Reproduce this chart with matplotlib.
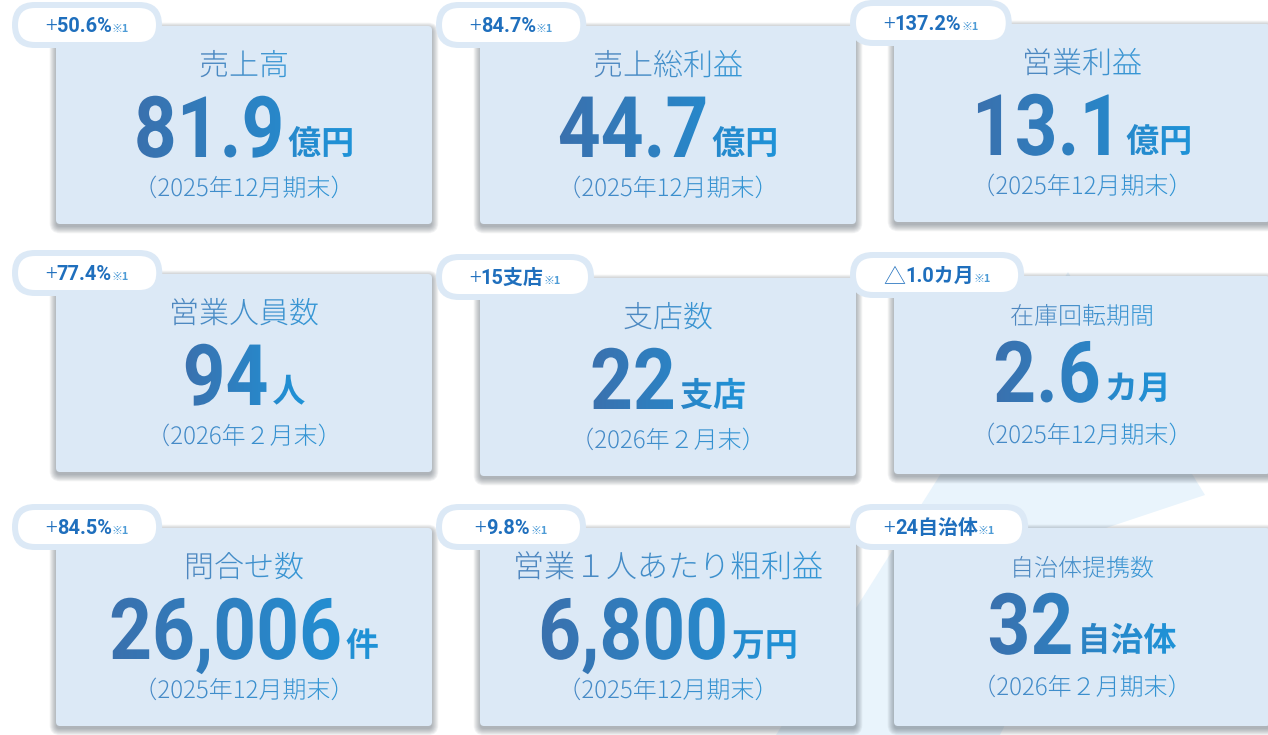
import numpy as np
import matplotlib
matplotlib.use('Agg')
import matplotlib.pyplot as plt
from matplotlib.patches import FancyBboxPatch, Polygon
from matplotlib.patheffects import AbstractPathEffect
from matplotlib.transforms import Affine2D, Bbox
from matplotlib.colors import to_rgb

plt.rcParams['font.family'] = ['Noto Sans CJK JP', 'DejaVu Sans']

# ---- data ----
badges = ['+50.6%', '+84.7%', '+137.2%',
          '+77.4%', '+15支店', '△1.0カ月',
          '+84.5%', '+9.8%', '+24自治体']
titles = ['売上高', '売上総利益', '営業利益',
          '営業人員数', '支店数', '在庫回転期間',
          '問合せ数', '営業１人あたり粗利益', '自治体提携数']
values = ['81.9', '44.7', '13.1', '94', '22', '2.6', '26,006', '6,800', '32']
units = ['億円', '億円', '億円', '人', '支店', 'カ月', '件', '万円', '自治体']
periods = ['（2025年12月期末）', '（2025年12月期末）', '（2025年12月期末）',
           '（2026年２月末）', '（2026年２月末）', '（2025年12月期末）',
           '（2025年12月期末）', '（2025年12月期末）', '（2026年２月期末）']
note = '※1'

# ---- layout ----
W, H = 1268, 735
PT = 72 / 100          # pixels -> points at dpi 100
col_left = [56, 480, 894]
row_top = [[26, 26, 24], [274, 278, 276], [528, 528, 528]]
CW, CH = 376, 198
title_px = [30, 30, 30, 30, 30, 24, 30, 31, 24]

CARD = '#dce9f6'
BADGE = '#1f6fbd'
NOTE_C = '#4d9bd6'


class Grad(AbstractPathEffect):
    """horizontal colour gradient, optional vertical stretch about the baseline"""
    def __init__(self, c0, c1, x0, x1, sy=1.0, oy=0.0):
        super().__init__()
        self.c0, self.c1 = np.array(to_rgb(c0)), np.array(to_rgb(c1))
        self.x0, self.x1, self.sy, self.oy = x0, x1, sy, oy

    def draw_path(self, renderer, gc, tpath, affine, rgbFace=None):
        aff = affine + Affine2D().translate(0, -self.oy).scale(1, self.sy).translate(0, self.oy)
        step = 2
        for xa in range(int(self.x0) - 30, int(self.x1) + 30, step):
            t = np.clip((xa + 1 - self.x0) / (self.x1 - self.x0), 0, 1)
            col = tuple(self.c0 + (self.c1 - self.c0) * t)
            g = renderer.new_gc()
            g.copy_properties(gc)
            g.set_clip_rectangle(Bbox([[xa, 0], [xa + step, H]]))
            renderer.draw_path(g, tpath, aff, col)
            g.restore()


fig = plt.figure(figsize=(W / 100, H / 100), dpi=100)
ax = fig.add_axes([0, 0, 1, 1])
ax.set_xlim(0, W)
ax.set_ylim(H, 0)
ax.axis('off')

# faint arrow shape in the background
ax.add_patch(Polygon([(776, 735), (1068, 272), (1205, 495), (1100, 530), (1000, 735)],
                     closed=True, fc='#e9f4fc', ec='none', zorder=0))

r = fig.canvas.get_renderer()


def width(t):
    return t.get_window_extent(r).width


for i in range(9):
    row, c = divmod(i, 3)
    x0, y0 = col_left[c], row_top[row][c]
    cx = x0 + CW / 2

    # shadow
    for k in range(8):
        p = k * 0.9
        ax.add_patch(FancyBboxPatch((x0 - p, y0 + 3 - p), CW + 2 * p, CH + 2 * p,
                                    boxstyle='round,pad=0,rounding_size=%g' % (4 + p),
                                    fc='#4a5560', ec='none', alpha=0.065, zorder=2))
    ax.add_patch(FancyBboxPatch((x0, y0), CW, CH, boxstyle='round,pad=0,rounding_size=4',
                                fc=CARD, ec='none', zorder=3))

    # badge texts
    sign, rest = badges[i][0], badges[i][1:]
    bt = y0 + 6
    t_sign = ax.text(0, bt + 1, sign, fontsize=22 * PT, color=BADGE, va='baseline', zorder=6,
                     fontweight='light', family=['Noto Sans CJK JP', 'DejaVu Sans'])
    t_main = ax.text(0, bt, rest, fontsize=20 * PT, color=BADGE, va='baseline', zorder=6,
                     fontweight='bold', family=['Roboto', 'Noto Sans CJK JP'])
    t_note = ax.text(0, bt, note, fontsize=11 * PT, color=NOTE_C, va='baseline', zorder=6,
                     fontweight='bold', family=['Noto Sans CJK JP', 'DejaVu Sans'])
    ws, wm, wn = width(t_sign), width(t_main), width(t_note)
    tw = ws + wm + wn
    pw = max(150, tw + 66)
    px0 = x0 - 44
    pcy = y0 - 1
    ax.add_patch(FancyBboxPatch((px0, pcy - 23), pw, 46, boxstyle='round,pad=0,rounding_size=23',
                                fc=CARD, ec='none', zorder=4))
    ax.add_patch(FancyBboxPatch((px0 + 6, pcy - 17), pw - 12, 34,
                                boxstyle='round,pad=0,rounding_size=17',
                                fc='white', ec='none', zorder=5))
    sx0 = px0 + pw / 2 - tw / 2
    t_sign.set_x(sx0)
    t_main.set_x(sx0 + ws)
    t_note.set_x(sx0 + ws + wm)

    # title
    small = title_px[i] < 30
    tt = ax.text(cx, y0 + (48 if small else 49), titles[i], fontsize=title_px[i] * PT,
                 ha='center', va='baseline', fontweight='light', zorder=6)
    wt = width(tt)
    tt.set_path_effects([Grad('#4f86be', '#3497d6', cx - wt / 2, cx + wt / 2)])

    # big number + unit (number drawn narrower size, stretched tall)
    nb = y0 + (126 if small else 131)
    sq = 0.88
    tn = ax.text(0, nb, values[i], fontsize=85 * sq * PT, fontweight='bold', family='Roboto',
                 va='baseline', zorder=6)
    tu = ax.text(0, nb - 3, units[i], fontsize=33 * PT, fontweight='bold',
                 va='baseline', zorder=6)
    wn_ = width(tn)
    wu = width(tu)
    gx0 = cx - (wn_ + 4 + wu) / 2
    gx1 = gx0 + wn_ + 4 + wu
    tn.set_x(gx0)
    tu.set_x(gx0 + wn_ + 4)
    tn.set_path_effects([Grad('#3a70ad', '#1e93d8', gx0, gx1, sy=1 / sq, oy=H - nb)])
    tu.set_path_effects([Grad('#3a70ad', '#1e93d8', gx0, gx1)])

    # period
    tp = ax.text(cx, y0 + (167 if small else 170), periods[i], fontsize=24 * PT,
                 ha='center', va='baseline', fontweight='light', zorder=6)
    wp = width(tp)
    tp.set_path_effects([Grad('#4a88c4', '#2c95d6', cx - wp / 2, cx + wp / 2)])

ax.set_xlim(0, W)
ax.set_ylim(H, 0)
fig.savefig('out.png', dpi=100, facecolor='white')
